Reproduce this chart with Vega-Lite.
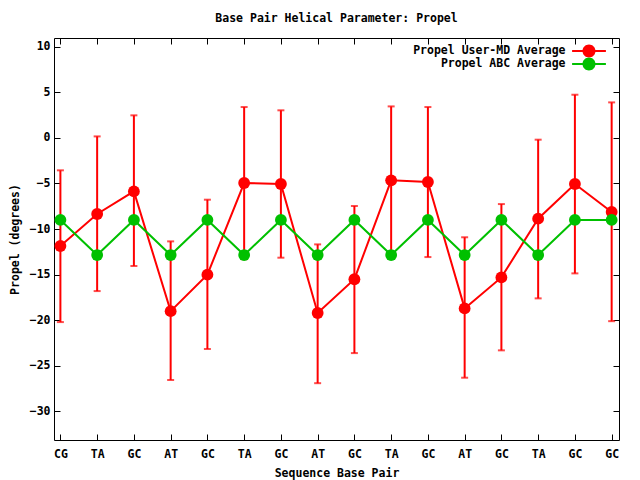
{
  "$schema": "https://vega.github.io/schema/vega-lite/v6.json",
  "width": 565,
  "height": 402,
  "autosize": {"type": "none"},
  "padding": {"left": 54, "top": 38, "right": 21, "bottom": 40},
  "background": "white",
  "view": {"stroke": "black", "strokeWidth": 1},
  "config": {
    "font": "DejaVu Sans Mono",
    "axis": {"labelFont": "DejaVu Sans Mono", "labelFontSize": 11.5, "labelFontWeight": "bold", "labelColor": "black", "titleFont": "DejaVu Sans Mono", "titleFontSize": 11.5, "titleFontWeight": "bold", "titleColor": "black", "grid": false, "domain": false, "tickColor": "black", "tickSize": -6, "tickWidth": 1},
    "legend": {"labelFont": "DejaVu Sans Mono", "labelFontSize": 11.5, "labelFontWeight": "bold", "labelColor": "black"}
  },
  "title": {"text": "Base Pair Helical Parameter: Propel", "font": "DejaVu Sans Mono", "fontSize": 11.5, "fontWeight": "bold", "color": "black", "anchor": "middle", "offset": 13},
  "data": {"values": [
    {"idx": 0, "pair": "CG", "md": -11.86, "lo": -20.2, "hi": -3.56, "abc": -9.0},
    {"idx": 1, "pair": "TA", "md": -8.35, "lo": -16.8, "hi": 0.16, "abc": -12.85},
    {"idx": 2, "pair": "GC", "md": -5.87, "lo": -14.05, "hi": 2.47, "abc": -9.0},
    {"idx": 3, "pair": "AT", "md": -19.0, "lo": -26.55, "hi": -11.35, "abc": -12.85},
    {"idx": 4, "pair": "GC", "md": -15.0, "lo": -23.15, "hi": -6.78, "abc": -9.0},
    {"idx": 5, "pair": "TA", "md": -4.95, "lo": -13.3, "hi": 3.38, "abc": -12.85},
    {"idx": 6, "pair": "GC", "md": -5.06, "lo": -13.14, "hi": 3.02, "abc": -9.0},
    {"idx": 7, "pair": "AT", "md": -19.2, "lo": -26.9, "hi": -11.68, "abc": -12.85},
    {"idx": 8, "pair": "GC", "md": -15.5, "lo": -23.6, "hi": -7.47, "abc": -9.0},
    {"idx": 9, "pair": "TA", "md": -4.66, "lo": -12.8, "hi": 3.45, "abc": -12.85},
    {"idx": 10, "pair": "GC", "md": -4.84, "lo": -13.07, "hi": 3.38, "abc": -9.0},
    {"idx": 11, "pair": "AT", "md": -18.7, "lo": -26.3, "hi": -10.9, "abc": -12.85},
    {"idx": 12, "pair": "GC", "md": -15.3, "lo": -23.3, "hi": -7.26, "abc": -9.0},
    {"idx": 13, "pair": "TA", "md": -8.86, "lo": -17.6, "hi": -0.2, "abc": -12.85},
    {"idx": 14, "pair": "GC", "md": -5.06, "lo": -14.86, "hi": 4.73, "abc": -9.0},
    {"idx": 15, "pair": "GC", "md": -8.13, "lo": -20.1, "hi": 3.89, "abc": -9.0}
  ]},
  "resolve": {"axis": {"x": "independent", "y": "independent"}},
  "layer": [
    {
      "mark": {"type": "rule", "color": "#ff0000", "strokeWidth": 2},
      "encoding": {
        "x": {"field": "idx", "type": "quantitative", "scale": {"domain": [-0.174, 15.2], "nice": false, "zero": false},
              "axis": {"orient": "bottom", "title": "Sequence Base Pair", "values": [0,1,2,3,4,5,6,7,8,9,10,11,12,13,14,15], "labelExpr": "['CG','TA','GC','AT','GC','TA','GC','AT','GC','TA','GC','AT','GC','TA','GC','GC'][datum.value]", "labelPadding": 14, "titlePadding": 8, "labelFlush": false}},
        "y": {"field": "lo", "type": "quantitative", "scale": {"domain": [-33.13, 10.95], "nice": false, "zero": false},
              "axis": {"orient": "left", "title": "Propel (degrees)", "values": [-30,-25,-20,-15,-10,-5,0,5,10], "labelPadding": 10, "titlePadding": 9, "labelFlush": false}},
        "y2": {"field": "hi"}
      }
    },
    {
      "mark": {"type": "tick", "color": "#ff0000", "orient": "horizontal", "size": 7, "thickness": 2},
      "encoding": {
        "x": {"field": "idx", "type": "quantitative", "axis": {"orient": "top", "labels": false, "title": null, "values": [0,1,2,3,4,5,6,7,8,9,10,11,12,13,14,15]}},
        "y": {"field": "lo", "type": "quantitative", "axis": {"orient": "right", "labels": false, "title": null, "values": [-30,-25,-20,-15,-10,-5,0,5,10]}}
      }
    },
    {
      "mark": {"type": "tick", "color": "#ff0000", "orient": "horizontal", "size": 7, "thickness": 2},
      "encoding": {
        "x": {"field": "idx", "type": "quantitative", "axis": null},
        "y": {"field": "hi", "type": "quantitative", "axis": null}
      }
    },
    {
      "mark": {"type": "line", "color": "#ff0000", "strokeWidth": 2},
      "encoding": {
        "x": {"field": "idx", "type": "quantitative", "axis": null},
        "y": {"field": "md", "type": "quantitative", "axis": null}
      }
    },
    {
      "mark": {"type": "circle", "size": 140, "opacity": 1},
      "encoding": {
        "x": {"field": "idx", "type": "quantitative", "axis": null},
        "y": {"field": "md", "type": "quantitative", "axis": null},
        "color": {"datum": "Propel User-MD Average", "type": "nominal",
                  "scale": {"domain": ["Propel User-MD Average", "Propel ABC Average"], "range": ["#ff0000", "#00c000"]},
                  "legend": {"title": null, "orient": "none", "legendX": 528.5, "legendY": 6.5, "symbolType": "M-2.6,-0.15H-0.9V0.15H-2.6Z M0.9,-0.15H2.6V0.15H0.9Z M-1,0A1,1,0,1,1,1,0A1,1,0,1,1,-1,0Z", "symbolSize": 169, "symbolStrokeWidth": 0, "labelAlign": "right", "labelOffset": -30, "rowPadding": 0, "padding": 0}}
      }
    },
    {
      "mark": {"type": "line", "color": "#00c000", "strokeWidth": 2},
      "encoding": {
        "x": {"field": "idx", "type": "quantitative", "axis": null},
        "y": {"field": "abc", "type": "quantitative", "axis": null}
      }
    },
    {
      "mark": {"type": "circle", "size": 140, "opacity": 1},
      "encoding": {
        "x": {"field": "idx", "type": "quantitative", "axis": null},
        "y": {"field": "abc", "type": "quantitative", "axis": null},
        "color": {"datum": "Propel ABC Average", "type": "nominal"}
      }
    }
  ]
}
